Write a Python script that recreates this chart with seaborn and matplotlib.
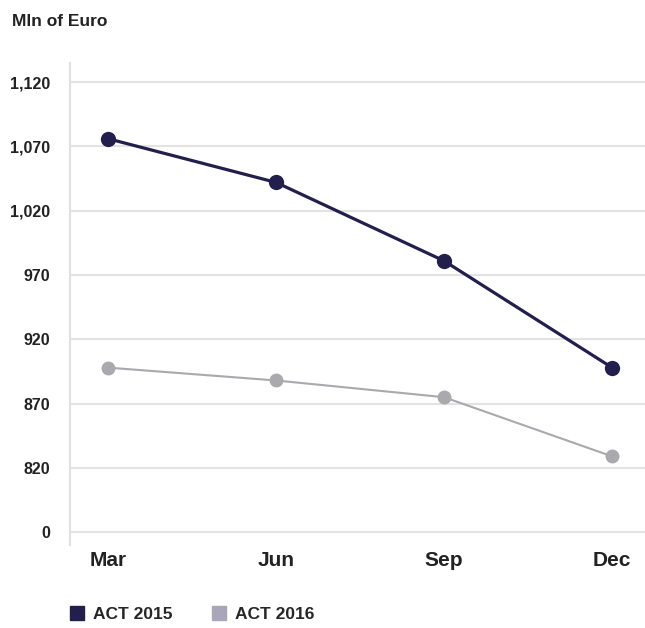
import pandas as pd
import matplotlib
matplotlib.use('Agg')
import matplotlib.pyplot as plt
from matplotlib.lines import Line2D
import seaborn as sns

# data (Mln of Euro)
months = ['Mar', 'Jun', 'Sep', 'Dec']
act_2015 = [1076, 1042, 981, 898]
act_2016 = [898, 888, 875, 829]

# y axis is broken: 0 at the bottom, then 820..1120 equally spaced
tick_labels = ['0', '820', '870', '920', '970', '1,020', '1,070', '1,120']
axis_break = 770  # value shown 50 units above the "0" tick

c2015 = '#221f4d'
c2016 = '#a9a9ae'
c2016_legend = '#a8a6b8'

sns.set_theme(style='white')
plt.rcParams['font.family'] = ['Liberation Sans', 'DejaVu Sans']

df = pd.DataFrame({
    'month': months * 2,
    'value': act_2015 + act_2016,
    'series': ['ACT 2015'] * 4 + ['ACT 2016'] * 4,
})
df['y'] = df['value'] - axis_break

fig = plt.figure(figsize=(6.45, 6.28), dpi=100)
ax = fig.add_axes([0.1085, 0.132, 0.8915, 0.768])

sns.lineplot(data=df[df['series'] == 'ACT 2016'], x='month', y='y', sort=False,
             color=c2016, linewidth=1.5, marker='o', markersize=10,
             markeredgewidth=0, ax=ax)
sns.lineplot(data=df[df['series'] == 'ACT 2015'], x='month', y='y', sort=False,
             color=c2015, linewidth=2.3, marker='o', markersize=11,
             markeredgewidth=0, ax=ax)

ax.set_xlim(-0.226, 3.196)
ax.set_ylim(-10, 365)
ax.set_yticks([0] + [i * 50 for i in range(1, 8)])
ax.set_yticklabels(tick_labels)
ax.set_xlabel('')
ax.set_ylabel('')

ax.yaxis.grid(True, color='#e3e3e3', linewidth=1.5)
ax.xaxis.grid(False)
for s in ['top', 'right', 'bottom']:
    ax.spines[s].set_visible(False)
ax.spines['left'].set_color('#e0e0e0')
ax.spines['left'].set_linewidth(1.5)
ax.tick_params(axis='y', length=5, color='#e3e3e3', width=1.5, pad=9,
               labelsize=11.5, labelcolor='#222222')
ax.tick_params(axis='x', length=0, pad=4, labelsize=15, labelcolor='#222222')
for lab in ax.get_yticklabels() + ax.get_xticklabels():
    lab.set_fontweight('bold')

fig.text(0.018, 0.965, 'Mln of Euro', fontsize=12.5, fontweight='bold',
         color='#222222', va='center')

handles = [Line2D([], [], marker='s', linestyle='', color=c2015, markersize=10),
           Line2D([], [], marker='s', linestyle='', color=c2016_legend, markersize=10)]
fig.legend(handles, ['ACT 2015', 'ACT 2016'], loc='center left',
           bbox_to_anchor=(0.082, 0.022), ncol=2, frameon=False,
           handletextpad=0.4, columnspacing=2.2, handlelength=1.0,
           prop={'size': 12.5, 'weight': 'bold'})

fig.savefig('out.png', dpi=100)
